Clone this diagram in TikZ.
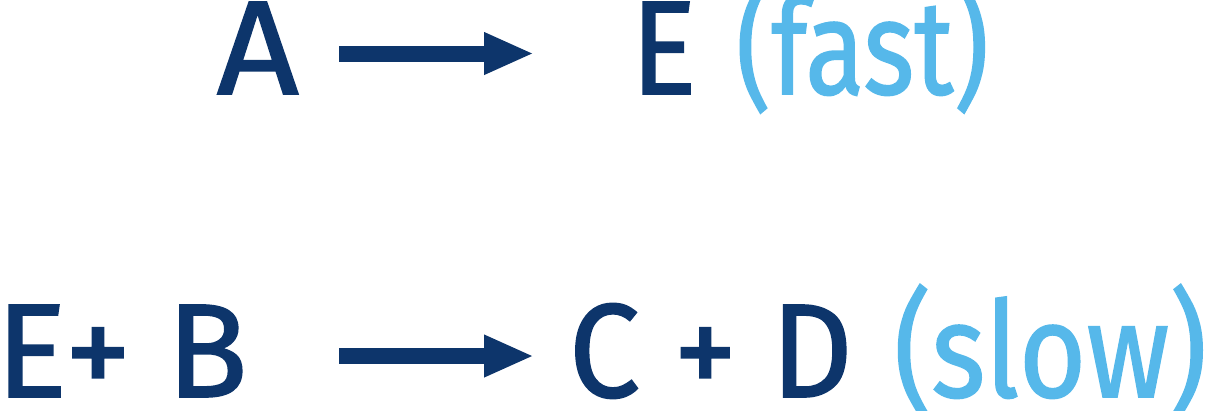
\documentclass[tikz,border=0pt]{standalone}
\usepackage{fontspec}
\setmainfont{Fira Sans}[FakeBold=1.2]
\usetikzlibrary{arrows.meta}
\definecolor{dkblue}{HTML}{0D356B}
\definecolor{ltblue}{HTML}{56B8EA}
\newcommand\fitw[2]{\resizebox{#1}{\height}{#2}}
\begin{document}
\begin{tikzpicture}[x=0.25pt,y=-0.25pt,
  txt/.style={inner sep=0pt, anchor=base west, font=\fontsize{33.4pt}{36pt}\selectfont},
  dk/.style={txt, text=dkblue},
  lt/.style={txt, text=ltblue},
  rxn/.style={draw=dkblue, line width=4pt, -{Triangle[length=12.5pt,width=9.75pt]}, fill=dkblue}]
\path[use as bounding box] (0,0) rectangle (1206,410);
% row 1
\node[dk] (A) at (216,94) {\fitw{20.5pt}{A}};
\node[dk] (E1) at (630,94) {\fitw{16.5pt}{E}};
\node[lt] (fast) at (735,94) {\fitw{63.25pt}{(fast)}};
\coordinate (a1s) at (339,53.5);
\coordinate (a1e) at (534,53.5);
\draw[rxn] (a1s) -- (a1e);
% row 2
\node[dk] (EB) at (-5,397) {\fitw{63pt}{E+ B}};
\node[dk] (CD) at (568,397) {\fitw{71pt}{C + D}};
\node[lt] (slow) at (893,397) {\fitw{78.25pt}{(slow)}};
\coordinate (a2s) at (339,356);
\coordinate (a2e) at (534,356);
\draw[rxn] (a2s) -- (a2e);
\end{tikzpicture}
\end{document}
